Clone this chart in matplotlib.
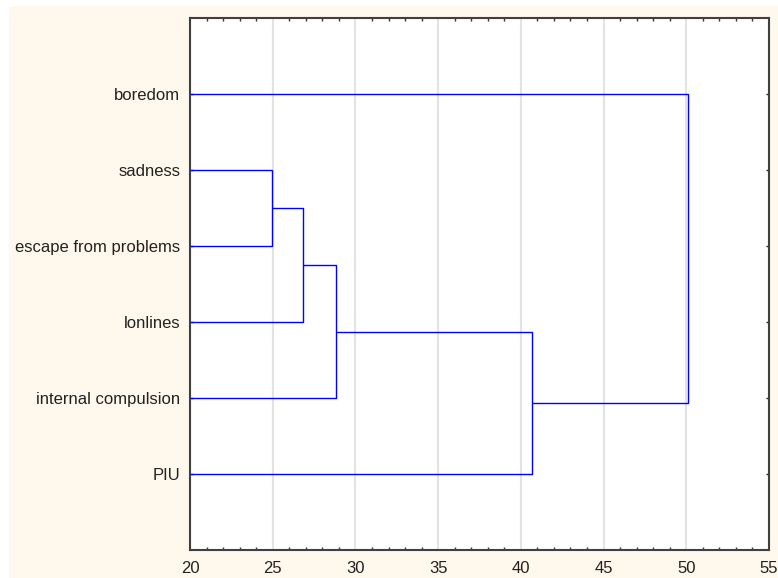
import matplotlib
matplotlib.use("Agg")
import matplotlib.pyplot as plt
from matplotlib.patches import Rectangle
from matplotlib.ticker import MultipleLocator

plt.rcParams['font.family'] = ['Liberation Sans', 'DejaVu Sans']

# Leaves from bottom to top
labels = ["PIU", "internal compulsion", "lonlines", "escape from problems", "sadness", "boredom"]
# Linkage steps: (left cluster, right cluster, linkage distance)
# leaves indexed 0..5 (bottom to top); new clusters numbered 6, 7, ...
merges = [
    (4, 3, 24.95),   # sadness + escape from problems
    (6, 2, 26.85),   # + lonlines
    (7, 1, 28.85),   # + internal compulsion
    (8, 0, 40.7),    # + PIU
    (9, 5, 50.1),    # + boredom
]
xticks = [20, 25, 30, 35, 40, 45, 50, 55]

W, H = 778, 578
fig = plt.figure(figsize=(W / 100, H / 100), dpi=100)
fig.patch.set_facecolor("white")
fig.patches.append(Rectangle((9 / W, 0), 1 - 9 / W, 1 - 6 / H, transform=fig.transFigure,
                             facecolor="#fff8ec", edgecolor="none", zorder=-10))

ax = fig.add_axes([190 / W, 1 - 550 / H, (769 - 190) / W, (550 - 18) / H])
ax.set_facecolor("white")

pos = {i: (i + 1, xticks[0]) for i in range(len(labels))}  # y position, x (height)
line_kw = dict(color="#0000ff", lw=1.0, solid_capstyle="butt", zorder=3)
nid = len(labels)
for a, b, d in merges:
    ya, xa = pos[a]
    yb, xb = pos[b]
    ax.plot([xa, d, d, xb], [ya, ya, yb, yb], **line_kw)
    pos[nid] = ((ya + yb) / 2, d)
    nid += 1

ax.set_xlim(20, 55)
ax.set_ylim(0, len(labels) + 1)
ax.set_xticks(xticks)
ax.xaxis.set_minor_locator(MultipleLocator(1))
ax.set_yticks(range(1, len(labels) + 1))
ax.set_yticklabels(labels)
ax.tick_params(axis="x", which="both", direction="in", top=True, bottom=True,
               labelsize=12, pad=8, colors="#222222")
ax.tick_params(axis="x", which="major", length=0)
ax.tick_params(axis="x", which="minor", length=2.5, width=1, color="#333333")
ax.tick_params(axis="y", which="major", direction="in", left=True, right=True,
               length=2.5, width=1, labelsize=12, pad=7, colors="#222222")
ax.grid(axis="x", which="major", color="#e3e3e3", lw=1.5, zorder=0)
for s in ax.spines.values():
    s.set_color("#404040")
    s.set_linewidth(1.5)

fig.savefig("out.png", dpi=100, facecolor=fig.get_facecolor())
